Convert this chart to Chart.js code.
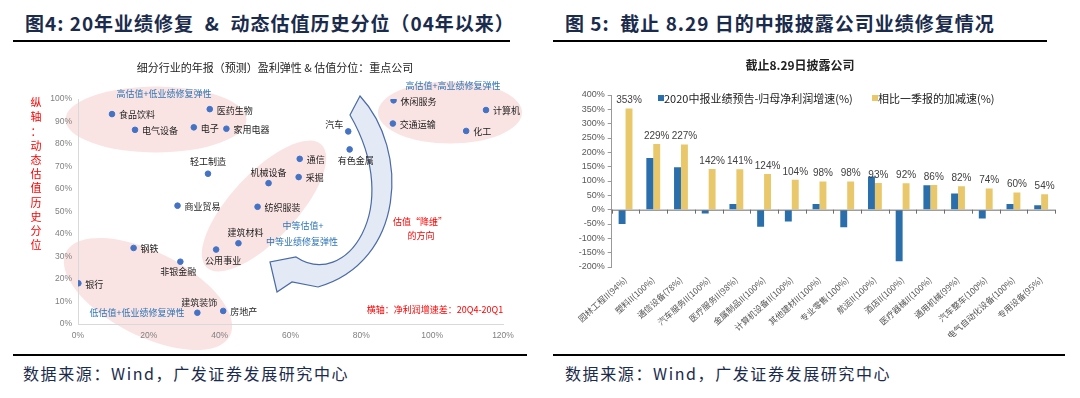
<!DOCTYPE html>
<html><head><meta charset="utf-8">
<script src="https://cdn.jsdelivr.net/npm/chart.js@4.4.0/dist/chart.umd.min.js"></script>
<style>
body{margin:0;width:1080px;height:398px;background:#fff;position:relative;overflow:hidden;font-family:"Noto Sans CJK SC",sans-serif;}
.t{position:absolute;font-weight:bold;font-size:19px;letter-spacing:1px;line-height:24px;color:#1a2b4c;white-space:pre;}
.ln{position:absolute;background:#000;height:2px;}
.src{position:absolute;font-size:16px;line-height:20px;letter-spacing:1.6px;color:#1a2b4c;white-space:nowrap;}
canvas{position:absolute;top:0;}
</style></head>
<body>
<div class="t" style="left:25px;top:11px;">图4: 20年业绩修复  &amp;  动态估值历史分位（04年以来）</div>
<div class="ln" style="left:13px;top:40px;width:497px;"></div>
<div class="t" style="left:565px;top:11px;">图 5:  截止 8.29 日的中报披露公司业绩修复情况</div>
<div class="ln" style="left:553px;top:40px;width:494px;"></div>
<div class="ln" style="left:13px;top:354px;width:514px;"></div>
<div class="ln" style="left:553px;top:354px;width:512px;"></div>
<div class="src" style="left:23px;top:363px;">数据来源：Wind，广发证券发展研究中心</div>
<div class="src" style="left:565px;top:363px;">数据来源：Wind，广发证券发展研究中心</div>
<canvas id="c1" width="540" height="398" style="left:0;width:540px;height:398px;"></canvas>
<canvas id="c2" width="540" height="398" style="left:540px;width:540px;height:398px;"></canvas>
<script>
// ---------- data: left scatter ----------
const industries = ['食品饮料','医药生物','电气设备','电子','家用电器','轻工制造','机械设备','商业贸易','纺织服装','汽车','有色金属','通信','采掘','休闲服务','计算机','交通运输','化工','建筑材料','公用事业','钢铁','非银金融','银行','建筑装饰','房地产'];
const profitGrowthGap = [9.6,37.2,16.1,32.7,41.9,36.7,53.8,28.1,50.7,76.3,76.7,62.6,62.3,89.1,115.2,88.9,109.6,45.3,39.0,15.7,28.9,0.1,33.7,41.0];
const valuationPercentile = [93.3,95.5,86.3,87.4,86.8,66.8,62.6,52.6,52.1,85.6,77.6,73.4,65.3,99.4,95.1,89.1,85.8,35.9,33.1,33.8,27.7,18.1,5.0,5.8];
const scatterXTicks = [0,20,40,60,80,100,120];
const scatterYTicks = [0,10,20,30,40,50,60,70,80,90,100];

// ---------- data: right bars ----------
const sectors = ['园林工程II(94%)','塑料II(100%)','通信设备(78%)','汽车服务II(100%)','医疗服务II(98%)','金属制品II(100%)','计算机设备II(100%)','其他建材II(100%)','专业零售(100%)','航运II(100%)','酒店II(100%)','医疗器械II(100%)','通用机械(99%)','汽车整车(100%)','电气自动化设备(100%)','专用设备(95%)'];
const h1Growth = [-50,180,148,-13,20,-60,-41,20,-61,116,-180,85,56,-31,20,15];
const accelVsQ1 = [353,229,227,142,141,124,104,98,98,93,92,86,82,74,60,54];
const seriesNames = ['2020中报业绩预告-归母净利润增速(%)','相比一季报的加减速(%)'];

const CJK = '"Noto Sans CJK SC", sans-serif';

// label placement (style only)
const place = {
  '轻工制造':['c',0,-12],'机械设备':['c',0,-11],'汽车':['l',-5,-7],'有色金属':['c',6,11],
  '建筑材料':['c',7,-11],'公用事业':['c',7,11],'非银金融':['c',-2,10],'建筑装饰':['c',2,-10]
};

const leftDeco = {
  id:'leftDeco',
  beforeDraw(chart){
    const c = chart.ctx;
    c.save();
    c.fillStyle = 'rgba(240,170,170,0.33)';
    const ells = [[156,119.5,90.5,33,0],[450,112.5,72,31,0],[264,206,84,33,-47],[148,294,92,42,27]];
    ells.forEach(e=>{c.beginPath();c.ellipse(e[0],e[1],e[2],e[3],e[4]*Math.PI/180,0,Math.PI*2);c.fill();});
    // curved arrow
    c.beginPath();
    c.moveTo(360,96);
    c.bezierCurveTo(410,150,405,262,318,287);
    c.lineTo(292,282);c.lineTo(277,292);c.lineTo(270,262);c.lineTo(296,257);
    c.bezierCurveTo(345,290,405,210,350,115);
    c.closePath();
    c.fillStyle='#e3e9f5';c.fill();
    c.strokeStyle='#4a6aa6';c.lineWidth=1.2;c.stroke();
    c.restore();
  },
  afterDatasetsDraw(chart){
    const c = chart.ctx, meta = chart.getDatasetMeta(0);
    c.save();
    c.font = '9px '+CJK; c.fillStyle='#222';
    meta.data.forEach((pt,i)=>{
      const name = industries[i]; const p = place[name];
      if(!p){c.textAlign='left';c.textBaseline='middle';c.fillText(name,pt.x+7,pt.y+1);}
      else if(p[0]==='l'){c.textAlign='right';c.textBaseline='middle';c.fillText(name,pt.x+p[1],pt.y+p[2]);}
      else {c.textAlign='center';c.textBaseline='middle';c.fillText(name,pt.x+p[1],pt.y+p[2]);}
    });
    c.textAlign='center';c.textBaseline='middle';
    c.font='11px '+CJK; c.fillStyle='#222';
    c.fillText('细分行业的年报（预测）盈利弹性 & 估值分位：重点公司',275,68);
    c.font='9px '+CJK; c.fillStyle='#2e75b6';
    c.fillText('高估值+低业绩修复弹性',164,94);
    c.fillText('高估值+高业绩修复弹性',453,86);
    c.fillText('中等估值+',303,226);
    c.fillText('中等业绩修复弹性',302,241.5);
    c.fillText('低估值+低业绩修复弹性',137,313);
    c.fillStyle='#ff0000';
    c.fillText('估值“降维”',420,222);
    c.fillText('的方向',421,236);
    c.fillText('横轴：净利润增速差：20Q4-20Q1',435,310);
    c.font='11px '+CJK;
    const v='纵轴：动态估值历史分位';
    for(let k=0;k<v.length;k++) c.fillText(v[k],36,103+k*14.2);
    c.restore();
  }
};

new Chart(document.getElementById('c1'),{
  type:'scatter',
  data:{datasets:[{label:'行业',data:profitGrowthGap.map((x,i)=>({x:x,y:valuationPercentile[i]})),
    backgroundColor:'#4472c4',borderColor:'#4472c4',pointRadius:2.8,pointHoverRadius:2.8}]},
  options:{
    responsive:false,animation:false,
    layout:{padding:{top:99,right:37,left:0,bottom:54}},
    plugins:{legend:{display:false},tooltip:{enabled:false}},
    scales:{
      x:{type:'linear',min:0,max:120,
        afterBuildTicks(s){s.ticks=scatterXTicks.map(v=>({value:v}));},
        afterFit(s){s.height=20;},
        grid:{display:false,drawTicks:false},border:{display:true,color:'#d9d9d9'},
        ticks:{padding:7,color:'#808080',font:{family:'Arial',size:8.5},callback:v=>v+'%'}},
      y:{type:'linear',min:0,max:100,
        afterBuildTicks(s){s.ticks=scatterYTicks.map(v=>({value:v}));},
        afterFit(s){s.width=78;},
        grid:{display:false,drawTicks:false},border:{display:true,color:'#d9d9d9'},
        ticks:{padding:6,color:'#808080',font:{family:'Arial',size:8.5},callback:v=>v+'%'}}
    }
  },
  plugins:[leftDeco]
});

const rightDeco = {
  id:'rightDeco',
  afterDatasetsDraw(chart){
    const c = chart.ctx, a = chart.chartArea, ys = chart.scales.y;
    const y0 = ys.getPixelForValue(0);
    c.save();
    c.strokeStyle='#6d6d6d';c.lineWidth=1;
    c.beginPath();c.moveTo(a.left,y0+0.5);c.lineTo(a.right,y0+0.5);c.stroke();
    const n = sectors.length, w=(a.right-a.left)/n;
    c.beginPath();
    for(let i=0;i<=n;i++){const x=Math.round(a.left+i*w)+0.5;c.moveTo(x,y0);c.lineTo(x,y0+4);}
    c.stroke();
    // data labels on yellow bars
    const meta = chart.getDatasetMeta(1);
    c.font='10px Arial';c.fillStyle='#404040';c.textAlign='center';c.textBaseline='bottom';
    meta.data.forEach((b,i)=>{c.fillText(accelVsQ1[i]+'%',b.x,b.y-3);});
    // chart title
    c.font='bold 12px '+CJK;c.fillStyle='#222';c.textBaseline='middle';
    c.fillText('截止8.29日披露公司',260,65);
    // legend
    c.font='11px '+CJK;c.textAlign='left';
    const lg=[[118,0],[332,1]];
    lg.forEach(l=>{
      const ds=chart.data.datasets[l[1]];
      c.fillStyle=ds.backgroundColor;c.fillRect(l[0],95,6,6);
      c.fillStyle='#222';c.fillText(ds.label,l[0]+6,98.5);
    });
    c.restore();
  }
};

new Chart(document.getElementById('c2'),{
  type:'bar',
  data:{labels:sectors,datasets:[
    {label:seriesNames[0],data:h1Growth,backgroundColor:'#2a6fab',categoryPercentage:0.5,barPercentage:1.0},
    {label:seriesNames[1],data:accelVsQ1,backgroundColor:'#e9c86c',categoryPercentage:0.5,barPercentage:1.0}
  ]},
  options:{
    responsive:false,animation:false,
    layout:{padding:{top:95,right:25,left:0,bottom:61}},
    plugins:{legend:{display:false},tooltip:{enabled:false}},
    scales:{
      x:{grid:{display:false,drawTicks:false},border:{display:false},
        afterFit(s){s.height=70;},
        ticks:{autoSkip:false,minRotation:42,maxRotation:42,padding:8,color:'#555',font:{family:CJK,size:8.5}}},
      y:{min:-200,max:400,
        afterFit(s){s.width=71.7;},
        grid:{drawOnChartArea:false,drawTicks:true,tickLength:4,color:'#999',tickColor:'#999'},
        border:{display:true,color:'#999'},
        ticks:{stepSize:50,padding:3,color:'#595959',font:{family:'Arial',size:9},callback:v=>v+'%'}}
    }
  },
  plugins:[rightDeco]
});
</script>
</body></html>
